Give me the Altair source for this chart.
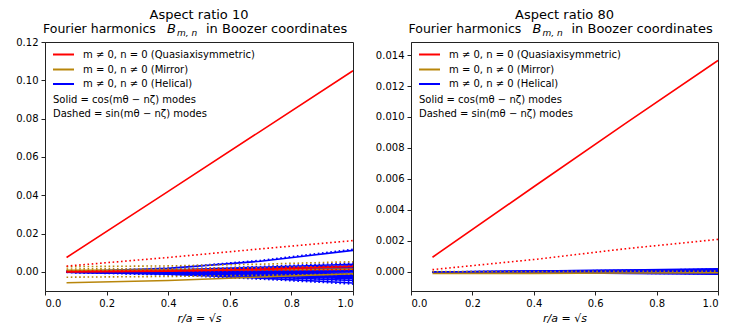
import altair as alt
import pandas as pd

FONT = "DejaVu Sans"

# radial coordinate samples r/a = sqrt(s)
R = [0.07, 0.4, 0.7, 1.0]

# ---------------- Aspect ratio 10 ----------------
qa_cos_10 = [
    [0.0075, 0.0420, 0.0735, 0.1050],
    [0.0000, 0.0004, 0.0013, 0.0028],
]
qa_sin_10 = [
    [0.0030, 0.0075, 0.0120, 0.0163],
    [0.0002, 0.0009, 0.0018, 0.0030],
    [0.0001, 0.0004, 0.0008, 0.0012],
]
mirror_cos_10 = [
    [-0.0057, -0.0045, -0.0027, -0.0010],
    [0.0008, 0.0009, 0.0011, 0.0014],
]
mirror_sin_10 = [
    [0.0027, 0.0031, 0.0040, 0.0053],
    [-0.0028, -0.0024, -0.0018, -0.0012],
    [0.0015, 0.0017, 0.0022, 0.0030],
]
helical_cos_10 = [
    [0.0000, 0.0018, 0.0055, 0.0112],
    [0.0002, 0.0010, 0.0024, 0.0040],
    [0.0001, 0.0008, 0.0019, 0.0032],
    [0.0001, 0.0007, 0.0015, 0.0025],
    [0.0001, 0.0005, 0.0011, 0.0018],
    [0.0000, 0.0004, 0.0008, 0.0012],
    [0.0000, 0.0001, 0.0003, 0.0005],
    [0.0000, 0.0000, 0.0001, 0.0002],
    [0.0000, -0.0001, -0.0003, -0.0006],
    [0.0000, -0.0003, -0.0006, -0.0010],
    [-0.0001, -0.0004, -0.0009, -0.0016],
    [-0.0001, -0.0005, -0.0011, -0.0020],
    [-0.0001, -0.0006, -0.0014, -0.0026],
    [-0.0001, -0.0007, -0.0017, -0.0031],
    [-0.0002, -0.0009, -0.0020, -0.0036],
    [-0.0002, -0.0010, -0.0025, -0.0045],
    [-0.0002, -0.0012, -0.0033, -0.0058],
]
helical_sin_10 = [
    [0.0001, 0.0020, 0.0060, 0.0118],
    [0.0002, 0.0012, 0.0028, 0.0046],
    [0.0001, 0.0009, 0.0020, 0.0034],
    [0.0001, 0.0006, 0.0013, 0.0021],
    [0.0000, 0.0004, 0.0009, 0.0015],
    [0.0000, 0.0002, 0.0005, 0.0008],
    [0.0000, 0.0001, 0.0002, 0.0003],
    [0.0000, -0.0002, -0.0004, -0.0008],
    [0.0000, -0.0003, -0.0007, -0.0013],
    [-0.0001, -0.0005, -0.0011, -0.0019],
    [-0.0001, -0.0006, -0.0013, -0.0024],
    [-0.0001, -0.0008, -0.0017, -0.0030],
    [-0.0002, -0.0009, -0.0020, -0.0036],
    [-0.0002, -0.0011, -0.0024, -0.0042],
    [-0.0002, -0.0012, -0.0028, -0.0050],
    [-0.0003, -0.0016, -0.0038, -0.0064],
]

# ---------------- Aspect ratio 80 ----------------
qa_cos_80 = [
    [0.00095, 0.00550, 0.00960, 0.01365],
]
qa_sin_80 = [
    [0.00015, 0.00080, 0.00150, 0.00210],
]
mirror_cos_80 = [
    [-0.00010, -0.00009, -0.00007, -0.00005],
]
mirror_sin_80 = [
    [0.00003, 0.00003, 0.00004, 0.00005],
]
helical_cos_80 = [
    [0.0, 0.00006, 0.00013, 0.00020],
    [0.0, 0.00005, 0.00010, 0.00015],
    [0.0, 0.00003, 0.00006, 0.00010],
    [0.0, 0.00001, 0.00002, 0.00004],
    [0.0, -0.00002, -0.00005, -0.00010],
    [0.0, -0.00004, -0.00009, -0.00015],
]
helical_sin_80 = [
    [0.0, 0.00005, 0.00010, 0.00018],
    [0.0, 0.00004, 0.00007, 0.00012],
    [0.0, 0.00000, 0.00002, 0.00003],
    [0.0, -0.00002, -0.00004, -0.00006],
    [0.0, -0.00004, -0.00008, -0.00012],
]

# ---------------- text / axes ----------------
PANEL_TITLES = ["Aspect ratio 10", "Aspect ratio 80"]
TITLE_PARTS = ["Fourier harmonics", "B", "m, n", "in Boozer coordinates"]
LEGEND_LABELS = ["m \u2260 0, n = 0 (Quasiaxisymmetric)",
                 "m = 0, n \u2260 0 (Mirror)",
                 "m \u2260 0, n \u2260 0 (Helical)"]
NOTE_LABELS = ["Solid = cos(m\u03b8 \u2212 n\u03b6) modes",
               "Dashed = sin(m\u03b8 \u2212 n\u03b6) modes"]
X_TITLE = "r/a = \u221as"
XTICKS = [0.0, 0.2, 0.4, 0.6, 0.8, 1.0]
YTICKS_10 = [0.0, 0.02, 0.04, 0.06, 0.08, 0.10, 0.12]
YDOMAIN_10 = [-0.01, 0.120001]
YTICKS_80 = [0.0, 0.002, 0.004, 0.006, 0.008, 0.010, 0.012, 0.014]
YDOMAIN_80 = [-0.00123, 0.01484]

COLORS = {"qa": "#ff0000", "mirror": "#b8860b", "helical": "#0000ff"}
KIND_ORDER = ["qa", "mirror", "helical"]


def frame(series_list, key):
    rows = []
    for i, s in enumerate(series_list):
        for r, v in zip(R, s):
            rows.append({"id": f"{key}-{i}", "r": r, "B": v})
    return pd.DataFrame(rows)


def text_layer(txt, x, y, size=10, align="left", baseline="middle", style="normal"):
    return alt.Chart(pd.DataFrame({"t": [txt]})).mark_text(
        align=align, baseline=baseline, font=FONT, fontSize=size,
        fontStyle=style, color="black"
    ).encode(text="t:N", x=alt.value(x), y=alt.value(y))


def panel(groups, title, ydom, yticks, yfmt, w, h):
    x = alt.X("r:Q", scale=alt.Scale(domain=[0, 1], nice=False, zero=False),
              axis=alt.Axis(values=XTICKS, format=".1f", title=X_TITLE))
    y = alt.Y("B:Q", scale=alt.Scale(domain=ydom, nice=False, zero=False),
              axis=alt.Axis(values=yticks, format=yfmt, title=None))
    layers = []
    for kind in ["helical", "mirror", "qa"]:
        for parity in ["cos", "sin"]:
            df = frame(groups[(kind, parity)], f"{kind}-{parity}")
            kw = dict(color=COLORS[kind], strokeWidth=1.6, clip=True)
            if parity == "sin":
                kw["strokeDash"] = [1.6, 2.6]
            layers.append(alt.Chart(df).mark_line(**kw).encode(x=x, y=y, detail="id:N"))
    # legend handles + labels
    rows_y = [12.5, 27.5, 42]
    for k, lab, yy in zip(KIND_ORDER, LEGEND_LABELS, rows_y):
        layers.append(alt.Chart(pd.DataFrame({"k": [k]})).mark_rule(
            color=COLORS[k], strokeWidth=2).encode(
            x=alt.value(8), x2=alt.value(29), y=alt.value(yy)))
        layers.append(text_layer(lab, 38, yy))
    layers.append(text_layer(NOTE_LABELS[0], 8, 57.5))
    layers.append(text_layer(NOTE_LABELS[1], 8, 72))
    # titles
    c = w / 2
    layers.append(text_layer(title, c, -23, size=13, align="center", baseline="alphabetic"))
    layers.append(text_layer(TITLE_PARTS[0], c - 156, -9.5, size=12.5, align="left", baseline="alphabetic"))
    layers.append(text_layer(TITLE_PARTS[1], c - 32, -9.5, size=13, align="left", baseline="alphabetic", style="italic"))
    layers.append(text_layer(TITLE_PARTS[2], c - 22, -6.5, size=9, align="left", baseline="alphabetic", style="italic"))
    layers.append(text_layer(TITLE_PARTS[3], c + 7, -9.5, size=13, align="left", baseline="alphabetic"))
    return alt.layer(*layers).properties(width=w, height=h)


g10 = {("qa", "cos"): qa_cos_10, ("qa", "sin"): qa_sin_10,
       ("mirror", "cos"): mirror_cos_10, ("mirror", "sin"): mirror_sin_10,
       ("helical", "cos"): helical_cos_10, ("helical", "sin"): helical_sin_10}
g80 = {("qa", "cos"): qa_cos_80, ("qa", "sin"): qa_sin_80,
       ("mirror", "cos"): mirror_cos_80, ("mirror", "sin"): mirror_sin_80,
       ("helical", "cos"): helical_cos_80, ("helical", "sin"): helical_sin_80}

left = panel(g10, PANEL_TITLES[0], YDOMAIN_10, YTICKS_10, ".2f", 308, 249)
right = panel(g80, PANEL_TITLES[1], YDOMAIN_80, YTICKS_80, ".3f", 307, 249)

chart = alt.hconcat(left, right, spacing=20).properties(
    padding={"left": 7, "top": 0, "right": 0, "bottom": 0}
).configure_axis(
    labelFont=FONT, labelFontSize=10, labelColor="black", labelPadding=3,
    tickSize=4, tickColor="#222", domainColor="#222", grid=False,
    titleFont=FONT, titleFontSize=11, titleFontWeight="normal", titleColor="black",
    titleFontStyle="italic", titlePadding=4,
).configure_view(stroke="#222", strokeWidth=1)

chart.save("out.html", embed_options={"renderer": "svg", "actions": False})
